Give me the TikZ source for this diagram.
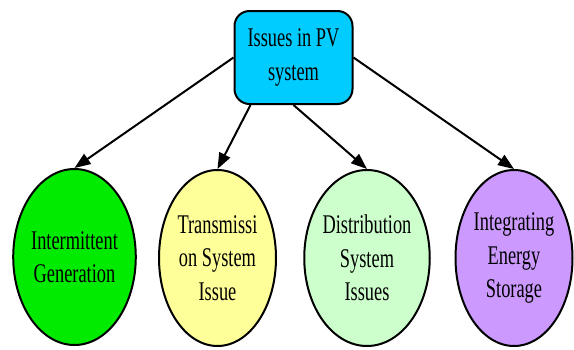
\documentclass[tikz,border=0pt]{standalone}
\usepackage{fontspec}
\setmainfont[FakeStretch=0.68]{Liberation Serif}
\usetikzlibrary{shapes.geometric,arrows.meta}
\definecolor{boxcyan}{RGB}{0,204,255}
\definecolor{ovgreen}{RGB}{0,235,0}
\definecolor{ovyellow}{RGB}{255,255,153}
\definecolor{ovlight}{RGB}{204,255,204}
\definecolor{ovpurple}{RGB}{204,153,255}
\begin{document}
\begin{tikzpicture}[x=1pt,y=-1pt,
  every node/.style={font=\fontsize{27}{33.5}\selectfont, align=center, text=black},
  oval/.style={ellipse, draw, line width=2pt, minimum width=117pt, minimum height=176pt, inner sep=0pt},
  link/.style={line width=2pt, -{Triangle[length=16pt,width=12pt]}}]
\useasboundingbox (0,0) rectangle (574,349);
\node[draw, line width=2pt, rounded corners=15pt, fill=boxcyan, minimum width=118pt, minimum height=93pt, inner sep=0pt] (top) at (293.5,57.5) {Issues in PV\\system};
\node[oval, fill=ovgreen] (e1) at (74.5,257) {Intermittent\\Generation};
\node[oval, fill=ovyellow] (e2) at (217.5,258) {Transmissi\\on System\\Issue};
\node[oval, fill=ovlight] (e3) at (367,258) {Distribution\\System\\Issues};
\node[oval, fill=ovpurple] (e4) at (514,258) {Integrating\\Energy\\Storage};
\draw[link] (top.west) -- (e1.north);
\draw[link] ([xshift=-43pt]top.south) -- (e2.north);
\draw[link] (top.south) -- (e3.north);
\draw[link] (top.east) -- (e4.north);
\end{tikzpicture}
\end{document}
